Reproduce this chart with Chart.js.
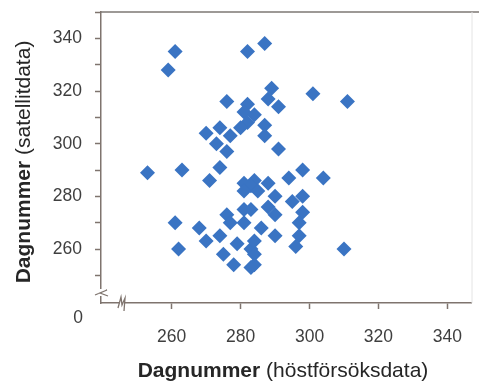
<!DOCTYPE html>
<html>
<head>
<meta charset="utf-8">
<script src="https://cdn.jsdelivr.net/npm/chart.js@4"></script>
<style>
  html, body { margin: 0; padding: 0; background: #fff; }
  #wrap { width: 479px; height: 383px; }
</style>
</head>
<body>
<div id="wrap"><canvas id="chart" width="479" height="383"></canvas></div>
<script>
// dagnummer: höstförsök (x) mot satellit (y)
const hostDays = [261, 259, 282, 287, 276, 289, 288, 291, 301, 311,
  282, 281, 284, 282, 280, 287, 287, 270, 274, 273,
  276, 277, 291, 253, 263, 274, 271, 281, 284, 283,
  288, 294, 298, 304, 281, 285, 290, 298, 283,
  288, 290, 295, 298, 297, 276, 281, 277, 281, 261,
  268, 262, 270, 274, 275, 278, 283, 284, 284, 286,
  290, 297, 296, 284, 310, 283, 279];
const satDays = [335, 328, 335, 338, 316, 321, 317, 314, 319, 316,
  315, 312, 311, 308, 306, 307, 303, 304, 306, 300,
  297, 303, 298, 289, 290, 291, 286, 285, 286, 284,
  285, 287, 290, 287, 282, 282, 280, 280, 275,
  276, 273, 278, 274, 270, 273, 275, 270, 270, 270,
  268, 260, 263, 265, 258, 254, 260, 254, 258, 268,
  265, 265, 261, 263, 260, 253, 262];
const xTicks = [260, 280, 300, 320, 340];
const yTicks = [260, 280, 300, 320, 340];

const axisColor = '#7f746e';
const textColor = '#3f3f3f';
const fontFam = '"Liberation Sans", Arial, sans-serif';

const points = hostDays.map((x, i) => ({ x: x, y: satDays[i] }));

// brytmarkeringar, nolla och axeltitlar (fet + normal text)
const extras = {
  id: 'extras',
  afterDraw(chart) {
    const ctx = chart.ctx;
    const a = chart.chartArea;
    ctx.save();
    // ram upptill
    ctx.strokeStyle = '#7d7773';
    ctx.lineWidth = 1.5;
    ctx.beginPath(); ctx.moveTo(a.left, a.top); ctx.lineTo(479, a.top); ctx.stroke();
    ctx.strokeStyle = '#e4e4e4';
    ctx.lineWidth = 1;
    ctx.beginPath(); ctx.moveTo(a.right + 0.5, a.top); ctx.lineTo(a.right + 0.5, a.bottom); ctx.stroke();

    // brytning y-axel
    ctx.fillStyle = '#fff';
    ctx.fillRect(a.left - 3, a.bottom - 14, 6, 7);
    ctx.strokeStyle = axisColor;
    ctx.lineWidth = 1.3;
    ctx.beginPath();
    ctx.moveTo(a.left - 6, a.bottom - 8);
    ctx.lineTo(a.left + 6, a.bottom - 13);
    ctx.lineTo(a.left - 1, a.bottom - 10);
    ctx.lineTo(a.left + 7, a.bottom - 7);
    ctx.stroke();
    // brytning x-axel
    ctx.fillStyle = '#fff';
    ctx.fillRect(a.left + 18, a.bottom - 2, 6, 4);
    ctx.beginPath();
    ctx.moveTo(a.left + 17, a.bottom + 5);
    ctx.lineTo(a.left + 20, a.bottom - 6);
    ctx.lineTo(a.left + 21, a.bottom + 2);
    ctx.lineTo(a.left + 24, a.bottom - 5);
    ctx.lineTo(a.left + 23, a.bottom + 8);
    ctx.stroke();

    // nolla
    ctx.fillStyle = textColor;
    ctx.font = '17.5px ' + fontFam;
    ctx.textAlign = 'center';
    ctx.textBaseline = 'middle';
    ctx.fillText('0', 78, 318);

    // axeltitlar
    function mixed(bold, rest, cx, cy, rot) {
      ctx.save();
      ctx.translate(cx, cy);
      ctx.rotate(rot);
      ctx.fillStyle = '#262626';
      ctx.textBaseline = 'middle';
      ctx.textAlign = 'left';
      ctx.font = 'bold 21px ' + fontFam;
      const w1 = ctx.measureText(bold).width;
      ctx.font = '21px ' + fontFam;
      const w2 = ctx.measureText(rest).width;
      const x0 = -(w1 + w2) / 2;
      ctx.font = 'bold 21px ' + fontFam;
      ctx.fillText(bold, x0, 0);
      ctx.font = '21px ' + fontFam;
      ctx.fillText(rest, x0 + w1, 0);
      ctx.restore();
    }
    mixed('Dagnummer', ' (höstförsöksdata)', 283, 371, 0);
    mixed('Dagnummer', ' (satellitdata)', 24, 162, -Math.PI / 2);
    ctx.restore();
  }
};

new Chart(document.getElementById('chart').getContext('2d'), {
  type: 'scatter',
  data: {
    datasets: [{
      data: points,
      pointStyle: 'rectRot',
      pointRadius: 7.5,
      pointHoverRadius: 7.5,
      backgroundColor: '#3a74c3',
      borderColor: '#3a74c3',
      borderWidth: 0
    }]
  },
  options: {
    responsive: false,
    animation: false,
    layout: { padding: { top: 12, right: 6, left: 0, bottom: 0 } },
    plugins: { legend: { display: false }, tooltip: { enabled: false } },
    scales: {
      x: {
        type: 'linear',
        min: 239.5, max: 347,
        afterFit(s) { s.height = 80; s.paddingLeft = 0; s.paddingRight = 0; },
        border: { display: true, color: axisColor, width: 1.5 },
        grid: {
          drawOnChartArea: false, drawTicks: true, tickLength: 6, tickWidth: 1.5,
          tickColor: c => (c.tick && c.tick.value === 240) ? 'rgba(0,0,0,0)' : axisColor
        },
        ticks: {
          stepSize: 20,
          includeBounds: false,
          padding: 18,
          color: textColor,
          font: { family: fontFam, size: 17.5 },
          maxRotation: 0,
          autoSkip: false,
          callback: v => xTicks.includes(v) ? String(v) : ''
        }
      },
      y: {
        type: 'linear',
        min: 239.5, max: 350,
        afterFit(s) { s.width = 101; s.paddingTop = 0; s.paddingBottom = 0; },
        border: { display: true, color: axisColor, width: 1.5 },
        grid: {
          drawOnChartArea: false, drawTicks: true, tickLength: 6, tickWidth: 1.5,
          tickColor: c => (c.tick && c.tick.value === 240) ? 'rgba(0,0,0,0)' : axisColor
        },
        ticks: {
          stepSize: 10,
          includeBounds: false,
          padding: 13,
          color: textColor,
          font: { family: fontFam, size: 17.5 },
          autoSkip: false,
          callback: v => yTicks.includes(v) ? String(v) : ''
        }
      }
    }
  },
  plugins: [extras]
});
</script>
</body>
</html>
